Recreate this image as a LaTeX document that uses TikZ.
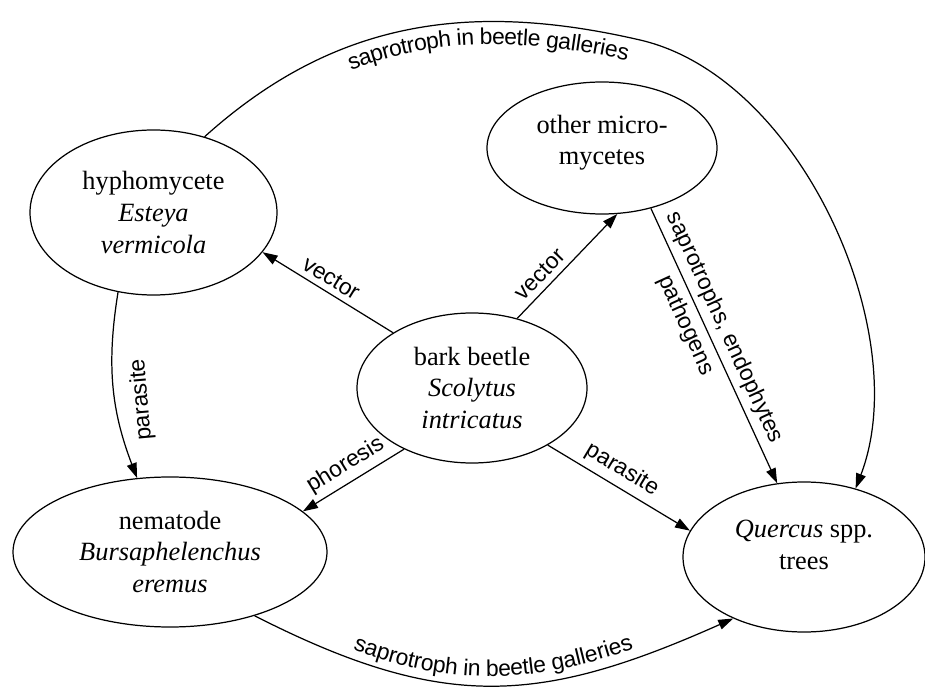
\documentclass[tikz,border=0pt]{standalone}
\usepackage{fontspec}
\setmainfont{Liberation Serif}
\newfontfamily\labfont{Liberation Sans}
\usepackage{tikz}
\usetikzlibrary {arrows.meta,shapes.geometric,decorations.text}

\tikzset{
  organism/.style={draw, ellipse, line width=0.7pt, inner sep=0pt, align=center,
    font=\fontsize{15}{18}\selectfont},
  link/.style={line width=0.7pt, -{Triangle[length=0.3cm,width=0.2cm]}},
  labfont/.style={font=\labfont\fontsize{13}{15}\selectfont},
  lab/.style={labfont, sloped}
}

\begin{document}
\begin{tikzpicture}
\useasboundingbox (0,0) rectangle (18.5,13.82);

\node (hyph) at (3.07,9.57) [organism, minimum width=4.94cm, minimum height=3.3cm] {hyphomycete\\ \textit{Esteya}\\ \textit{vermicola}};
\node (micro) at (12.04,10.86) [organism, minimum width=4.6cm, minimum height=2.64cm, text depth=0.32cm] {other micro-\\mycetes};
\node (beetle) at (9.44,6.06) [organism, minimum width=4.6cm, minimum height=3cm] {bark beetle\\ \textit{Scolytus}\\ \textit{intricatus}};
\node (nema) at (3.4,2.78) [organism, minimum width=6.28cm, minimum height=3cm] {nematode\\ \textit{Bursaphelenchus}\\ \textit{eremus}};
\node (quer) at (16.08,2.68) [organism, minimum width=4.84cm, minimum height=3cm, text depth=0.48cm] {\textit{Quercus} spp.\\ trees};

\draw [link] (beetle.145) -- node [lab, above, pos=0.53] {vector} (hyph.-20);
\draw [link] (beetle.57) -- node [lab, above, pos=0.33] {vector} (micro.-77);
\draw [link] (beetle.222) -- node [lab, above, pos=0.49] {phoresis} (nema.17);
\draw [link] (beetle.-37) -- node [lab, above, pos=0.46] {parasite} (quer.167);
\draw [link] (micro.-51) -- node [lab, above, pos=0.46] {saprotrophs, endophytes}
  node [lab, below, pos=0.40] {pathogens} (quer.110);
\draw [link] (hyph.246) to [bend right=15] node [labfont, rotate=95, anchor=north, pos=0.59, inner sep=0.3cm] {parasite} (nema.114);

% galleries, over the top and under the bottom
\coordinate (arctop) at (12.8,13.02);
\draw [link, postaction={decorate, decoration={text along path, raise=-0.46cm,
    text align={left indent=3.3cm},
    text={|\labfont\fontsize{13}{15}\selectfont|saprotroph in beetle galleries}}}]
  (hyph.56) to [out=42, in=167] (arctop) to [out=-13, in=69, looseness=0.85] (quer.53);
\draw [link, postaction={decorate, decoration={text along path, raise=0.18cm,
    text align=center,
    text={|\labfont\fontsize{13}{15}\selectfont|saprotroph in beetle galleries}}}]
  (nema.-37) to [out=-27, in=204, looseness=1.13] (quer.221);
\end{tikzpicture}
\end{document}
